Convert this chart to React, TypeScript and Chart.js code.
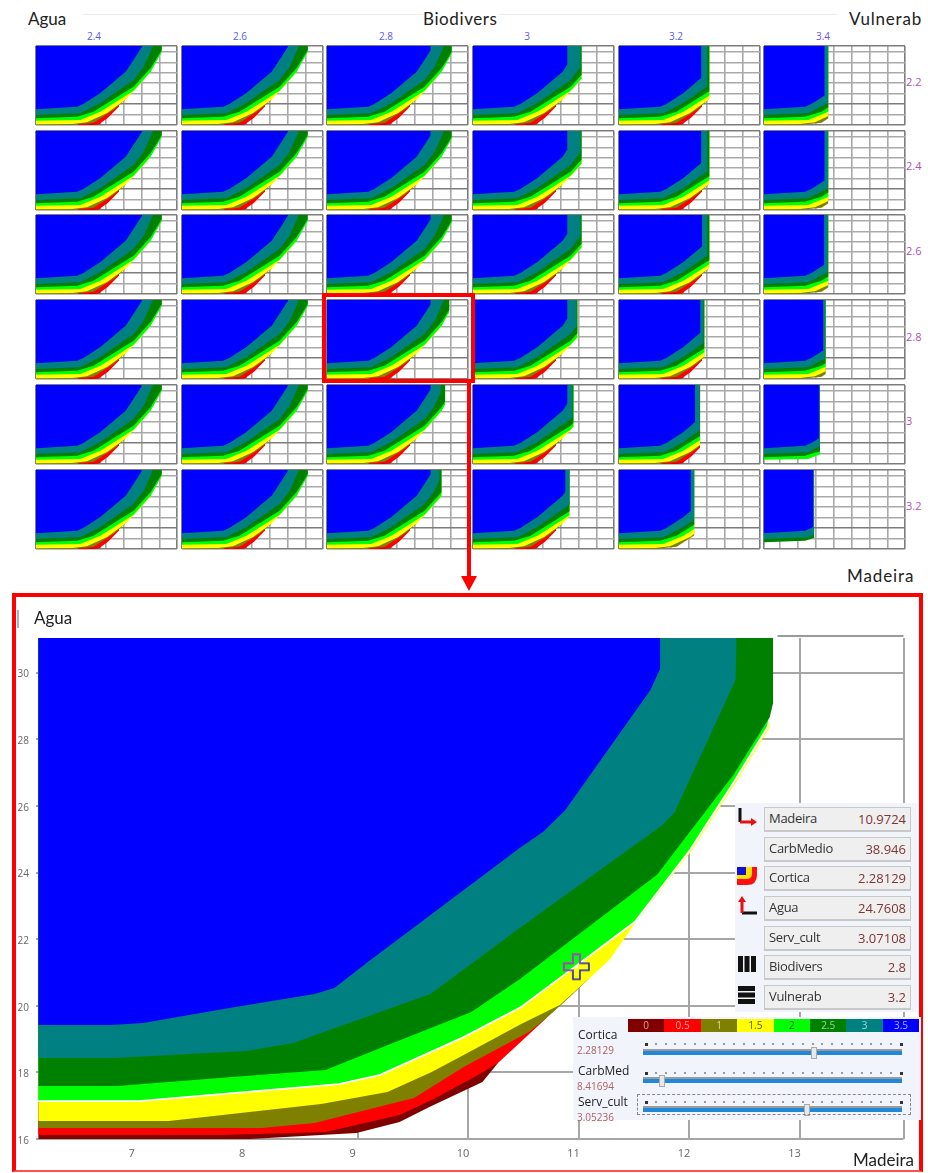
import React, { useEffect, useRef } from "react";
import { Chart, registerables } from "chart.js";

Chart.register(...registerables);

type Pt = [number, number];

// ---------- shared ----------
const levels = ["3.5", "3", "2.5", "2", "1.5", "1", "0.5", "0"];
const levelColors = ["#0000ff", "#008080", "#008000", "#00ff00", "#ffff00", "#808000", "#ff0000", "#800000"];
const legendLevels = ["0", "0.5", "1", "1.5", "2", "2.5", "3", "3.5"];
const legendColors = ["#800000", "#ff0000", "#808000", "#ffff00", "#00ff00", "#008000", "#008080", "#0000ff"];
const legendText = ["#d8a0a0", "#ffb0b0", "#d8d8a0", "#555500", "#006000", "#a0d0a0", "#a0d8d8", "#b0b0ff"];

// ---------- small multiples ----------
const biodivers = ["2.4", "2.6", "2.8", "3", "3.2", "3.4"];
const vulnerab = ["2.2", "2.4", "2.6", "2.8", "3", "3.2"];

const small35: Pt[] = [[6.1, 19.01], [8.38, 19.51], [8.73, 20.03], [9.68, 22.14], [11.08, 26.22], [11.63, 29.1], [12.01, 31.15]];
const small30: Pt[] = [[6.1, 17.92], [8.56, 18.24], [9.68, 20.22], [11.52, 24.63], [12.08, 27.18], [12.6, 31.15]];
const small25: Pt[] = [[6.1, 17.28], [8.38, 17.59], [9.29, 18.55], [11.52, 23.34], [12.47, 26.93], [13.09, 30.38], [13.09, 31.15]];
const small20: Pt[] = [[6.1, 16.82], [8.56, 16.96], [9.68, 18.55], [11.52, 22.58], [12.47, 26.22], [13.09, 30.06]];
const small15: Pt[] = [[6.1, 16.14], [8.11, 16.18], [8.93, 16.55], [10.05, 18.3], [11.08, 20.9], [11.69, 23.1], [12.47, 26.22]];
const small10: Pt[] = [[6.1, 16.0], [8.17, 16.03], [9.3, 16.44], [10.45, 19.0], [11.08, 20.9]];
const small05: Pt[] = [[8.4, 16.0], [8.9, 16.0], [9.6, 16.12], [10.1, 17.4], [10.62, 19.2], [10.72, 19.6]];
const small00: Pt[] = [[8.8, 16.0], [9.2, 16.0], [9.62, 16.12], [9.72, 16.4]];
const smallCurves = [small35, small30, small25, small20, small15, small10, small05, small00];

// Madeira value where each band is cut off, by row (Vulnerab) and column (Biodivers)
const blueCaps = [
  [12.01, 12.01, 11.86, 11.35, 10.68, 9.47],
  [12.01, 12.01, 11.86, 11.35, 10.68, 9.47],
  [12.01, 12.01, 11.86, 11.35, 10.72, 9.45],
  [12.01, 12.01, 11.86, 11.35, 10.63, 9.4],
  [11.97, 11.97, 11.86, 11.35, 10.33, 9.17],
  [11.97, 11.97, 11.86, 11.24, 10.09, 8.84],
];
const tealCaps = [
  [12.6, 12.58, 12.58, 12.08, 11.02, 9.66],
  [12.6, 12.58, 12.58, 12.08, 11.02, 9.66],
  [12.6, 12.58, 12.58, 12.08, 11.02, 9.66],
  [12.6, 12.58, 12.64, 11.86, 10.8, 9.51],
  [12.64, 12.58, 12.42, 11.63, 10.59, 9.21],
  [12.57, 12.58, 12.36, 11.47, 10.28, 8.88],
];
const greenCaps = [
  [13.09, 13.09, 13.03, 12.14, 11.13, 9.68],
  [13.09, 13.09, 13.03, 12.14, 11.13, 9.68],
  [13.09, 13.09, 13.03, 12.14, 11.13, 9.68],
  [13.09, 13.09, 12.9, 11.91, 10.85, 9.53],
  [13.09, 13.09, 12.67, 11.69, 10.61, 9.21],
  [13.09, 13.09, 12.47, 11.47, 10.29, 8.9],
];
// number of bands present in each panel, counted from the blue band
const bandCounts = [
  [8, 8, 8, 8, 8, 6],
  [8, 8, 8, 8, 8, 6],
  [8, 8, 8, 8, 8, 6],
  [8, 8, 8, 8, 8, 6],
  [8, 8, 8, 8, 8, 4],
  [8, 8, 8, 8, 6, 3],
];

const panelLefts = [36, 182, 327, 473, 618.5, 764];
const panelTops = [46, 130.5, 215, 300, 385, 470];
const colLabelX = [94, 240, 386, 527, 676, 823];
const rowLabelY = [82, 166, 251, 337, 421, 506];

const smallXTicks = [6.1, 7, 8, 9, 10, 11, 12, 13, 13.93];
const smallYTicks = [16, 18, 20, 22, 24, 26, 28, 30, 31.15];

// ---------- large chart ----------
const big35: Pt[] = [[6.11, 19.42], [6.77, 19.42], [7.06, 19.48], [7.84, 19.93], [8.61, 20.35], [8.79, 20.53], [9.12, 21.38], [10.47, 24.74], [10.68, 25.22], [10.88, 25.88], [11.65, 29.48], [11.74, 30.14], [11.74, 31.04]];
const big30: Pt[] = [[6.11, 18.43], [6.8, 18.43], [7.99, 18.64], [8.42, 18.88], [8.67, 19.18], [9.66, 20.35], [10.08, 21.38], [10.47, 22.34], [11.76, 25.43], [11.87, 25.82], [12.42, 29.78], [12.43, 31.04]];
const big25: Pt[] = [[6.11, 17.59], [6.83, 17.59], [7.86, 17.86], [8.71, 18.07], [9.32, 18.88], [10.03, 19.81], [10.47, 20.8], [11.71, 23.93], [12.4, 26.93], [12.73, 28.67], [12.76, 29.09], [12.76, 31.04]];
const big20: Pt[] = [[6.11, 17.14], [7.02, 17.14], [8.83, 17.65], [9.2, 17.92], [9.96, 19.06], [10.48, 19.96], [10.83, 20.83], [11.51, 22.52], [12.01, 24.68], [12.4, 26.69], [12.71, 28.37], [12.76, 29.09]];
const big15: Pt[] = [[6.11, 16.54], [7.29, 16.54], [8.67, 17.05], [9.27, 17.41], [9.67, 18.01], [9.96, 18.52], [10.48, 19.45], [10.83, 20.02], [11.1, 20.83], [11.28, 21.38], [11.52, 22.52], [12.03, 24.68], [12.42, 26.69], [12.73, 28.37]];
const big10: Pt[] = [[6.11, 16.33], [8.13, 16.33], [8.61, 16.48], [9.51, 17.23], [9.96, 18.16], [10.55, 19.21], [10.71, 19.63], [10.92, 20.26], [11.1, 20.83]];
const big05: Pt[] = [[6.11, 16.12], [7.76, 16.12], [8.71, 16.21], [9.38, 16.72], [9.67, 17.17], [10.09, 17.92], [10.27, 18.28], [10.71, 19.63]];
const big00: Pt[] = [[6.11, 16.0], [8.03, 16.0], [8.99, 16.18], [9.38, 16.51], [9.65, 16.96], [10.13, 17.71], [10.27, 18.28]];
const bigCurves = [big35, big30, big25, big20, big15, big10, big05, big00];

const bigXTicks = [7, 8, 9, 10, 11, 12, 13, 13.94];
const bigYTicks = [16, 18, 20, 22, 24, 26, 28, 30];
const bigFrameTop: Pt[] = [[12.8, 31.1], [13.94, 31.1]];
const cursorPoint: Pt[] = [[10.98, 21.17]];

// ---------- readouts ----------
const readNames = ["Madeira", "CarbMedio", "Cortica", "Agua", "Serv_cult", "Biodivers", "Vulnerab"];
const readValues = ["10.9724", "38.946", "2.28129", "24.7608", "3.07108", "2.8", "3.2"];
const sliderNames = ["Cortica", "CarbMed", "Serv_cult"];
const sliderValues = ["2.28129", "8.41694", "3.05236"];
const sliderFractions = [0.66, 0.075, 0.633];

const toXY = (pts: Pt[]) => pts.map(([x, y]) => ({ x, y }));

function cutAt(pts: Pt[], cap: number): Pt[] {
  const out: Pt[] = [];
  for (let i = 0; i < pts.length; i++) {
    const p = pts[i];
    if (p[0] <= cap) {
      out.push(p);
    } else {
      const a = pts[i - 1];
      const t = (cap - a[0]) / (p[0] - a[0]);
      out.push([cap, a[1] + (p[1] - a[1]) * t]);
      break;
    }
  }
  return out;
}

function SmallPanel({ row, col }: { row: number; col: number }) {
  const ref = useRef<HTMLCanvasElement>(null);
  useEffect(() => {
    const datasets = smallCurves.slice(0, bandCounts[row][col]).map((c, i) => {
      const cap = i === 0 ? blueCaps[row][col] : i === 1 ? tealCaps[row][col] : greenCaps[row][col];
      return {
        label: levels[i],
        data: toXY(cutAt(c, cap)),
        backgroundColor: levelColors[i],
        borderWidth: 0,
        pointRadius: 0,
        fill: { value: 31.15 },
        tension: 0,
      };
    });
    const chart = new Chart(ref.current!, {
      type: "line",
      data: { datasets } as any,
      options: {
        animation: false,
        responsive: false,
        events: [],
        layout: { padding: 2 },
        plugins: { legend: { display: false }, tooltip: { enabled: false } },
        scales: {
          x: {
            type: "linear",
            min: 6.1,
            max: 13.93,
            afterBuildTicks: (s: any) => { s.ticks = smallXTicks.map((value) => ({ value })); },
            afterFit: (s: any) => { s.height = 0; },
            ticks: { display: false },
            border: { display: false },
            grid: {
              drawTicks: false,
              lineWidth: 1.6,
              color: (c: any) => (c.tick.value === 6.1 || c.tick.value === 13.93 ? "#7d7d7d" : "#a9a9a9"),
            },
          },
          y: {
            type: "linear",
            min: 16,
            max: 31.15,
            afterBuildTicks: (s: any) => { s.ticks = smallYTicks.map((value) => ({ value })); },
            afterFit: (s: any) => { s.width = 0; },
            ticks: { display: false },
            border: { display: false },
            grid: {
              drawTicks: false,
              lineWidth: 1.6,
              color: (c: any) => (c.tick.value === 16 || c.tick.value === 31.15 || c.tick.value === 20 ? "#7d7d7d" : "#a9a9a9"),
            },
          },
        },
      } as any,
    });
    return () => chart.destroy();
  }, [row, col]);
  return (
    <canvas
      ref={ref}
      width={145}
      height={83}
      style={{ position: "absolute", left: panelLefts[col] - 2, top: panelTops[row] - 2, width: 145, height: 83 }}
    />
  );
}

function cursorImage() {
  const c = document.createElement("canvas");
  c.width = 29;
  c.height = 29;
  const g = c.getContext("2d")!;
  const a = 11, b = 18, lo = 2, hi = 27;
  const path = () => {
    g.beginPath();
    g.moveTo(a, lo); g.lineTo(b, lo); g.lineTo(b, a); g.lineTo(hi, a); g.lineTo(hi, b);
    g.lineTo(b, b); g.lineTo(b, hi); g.lineTo(a, hi); g.lineTo(a, b); g.lineTo(lo, b);
    g.lineTo(lo, a); g.lineTo(a, a); g.closePath();
  };
  path();
  g.lineWidth = 1.6;
  g.strokeStyle = "#2020c8";
  g.stroke();
  g.save();
  g.beginPath();
  g.moveTo(0, 0); g.lineTo(29, 0); g.lineTo(0, 29); g.closePath();
  g.clip();
  path();
  g.strokeStyle = "#d040d0";
  g.stroke();
  g.restore();
  g.fillStyle = "#ffffff";
  g.fillRect(13, 13, 3, 3);
  return c;
}

function BigChart() {
  const ref = useRef<HTMLCanvasElement>(null);
  useEffect(() => {
    const bands = bigCurves.map((c, i) => ({
      label: levels[i],
      data: toXY(c),
      backgroundColor: levelColors[i],
      borderColor: levels[i] === "2" ? "#ffffff" : levelColors[i],
      borderWidth: levels[i] === "2" ? 1.8 : 0,
      pointRadius: 0,
      fill: { value: 31.04 },
      tension: 0,
    }));
    const chart = new Chart(ref.current!, {
      type: "line",
      data: {
        datasets: [
          {
            label: "cursor",
            data: toXY(cursorPoint),
            showLine: false,
            pointStyle: cursorImage(),
            pointRadius: 14,
            fill: false,
          },
          {
            label: "frame",
            data: toXY(bigFrameTop),
            borderColor: "#9a9a9a",
            borderWidth: 2,
            pointRadius: 0,
            fill: false,
            clip: false,
          },
          ...bands,
        ],
      } as any,
      options: {
        animation: false,
        responsive: false,
        events: [],
        layout: { padding: { top: 18, right: 24.5, left: 0, bottom: 0 } },
        plugins: { legend: { display: false }, tooltip: { enabled: false } },
        scales: {
          x: {
            type: "linear",
            min: 6.09,
            max: 13.94,
            afterBuildTicks: (s: any) => { s.ticks = bigXTicks.map((value) => ({ value })); },
            afterFit: (s: any) => { s.height = 34; },
            border: { display: false },
            grid: { drawTicks: false, color: "#a6a6a6", lineWidth: 2 },
            ticks: {
              autoSkip: false,
              maxRotation: 0,
              padding: 8,
              labelOffset: -5,
              color: "#666666",
              font: { family: "'Open Sans'", size: 11 },
              callback: (v: any) => (Number.isInteger(v) ? String(v) : ""),
            },
          },
          y: {
            type: "linear",
            min: 16,
            max: 31.04,
            afterBuildTicks: (s: any) => { s.ticks = bigYTicks.map((value) => ({ value })); },
            afterFit: (s: any) => { s.width = 36; },
            border: { display: false },
            grid: { drawTicks: false, color: "#a6a6a6", lineWidth: 2 },
            ticks: {
              autoSkip: false,
              padding: 7,
              labelOffset: 2,
              color: "#666666",
              font: { family: "'Open Sans'", size: 10 },
              callback: (v: any) => String(v),
            },
          },
        },
      } as any,
    });
    return () => chart.destroy();
  }, []);
  return (
    <canvas
      ref={ref}
      width={928}
      height={553}
      style={{ position: "absolute", left: 0, top: 620, width: 928, height: 553 }}
    />
  );
}

const abs = (s: React.CSSProperties): React.CSSProperties => ({ position: "absolute", ...s });
const titleFont = "Lato, 'Open Sans', sans-serif";
const uiFont = "'Open Sans', 'DejaVu Sans', sans-serif";

function Title({ text, x, y, spacing = 0 }: { text: string; x: number; y: number; spacing?: number }) {
  return (
    <div style={abs({ left: x, top: y, font: `17px ${titleFont}`, letterSpacing: spacing, color: "#222", lineHeight: "20px", background: "#fff", whiteSpace: "nowrap" })}>
      {text}
    </div>
  );
}

const readTops = [807, 836.5, 866, 896, 925.5, 955, 985];
const sliderLabelTops = [1027, 1063, 1094];
const sliderTicksY = [1043, 1072, 1101];
const sliderTrackY = [1052, 1080, 1109];
const sliderTickIndex = Array.from({ length: 27 }, (_, i) => i);

function ReadoutIcon({ index }: { index: number }) {
  const style = abs({ left: 736, top: readTops[index] - 1 });
  if (index === 0)
    return (
      <svg width="22" height="22" style={style}>
        <path d="M4 2V16" stroke="#111" strokeWidth="3" fill="none" />
        <path d="M4 16H17" stroke="#e81010" strokeWidth="3" fill="none" />
        <path d="M15 12L21 16L15 20Z" fill="#e81010" />
      </svg>
    );
  if (index === 2)
    return (
      <svg width="22" height="22" style={style}>
        <path d="M1 2H21V10Q21 20 11 20H1Z" fill="#ff1010" />
        <path d="M1 2H16V9Q16 14 10 14H1Z" fill="#ffe000" />
        <rect x="1" y="2" width="9" height="8" fill="#1010d8" />
      </svg>
    );
  if (index === 3)
    return (
      <svg width="22" height="22" style={style}>
        <path d="M6 18H21" stroke="#111" strokeWidth="3" fill="none" />
        <path d="M6 6V18" stroke="#e81010" strokeWidth="3" fill="none" />
        <path d="M2 7L6 1L10 7Z" fill="#e81010" />
      </svg>
    );
  if (index === 5)
    return (
      <svg width="22" height="22" style={style}>
        <rect x="2" y="2" width="5" height="16" fill="#111" />
        <rect x="8.5" y="2" width="5" height="16" fill="#111" />
        <rect x="15" y="2" width="5" height="16" fill="#111" />
      </svg>
    );
  if (index === 6)
    return (
      <svg width="22" height="22" style={style}>
        <rect x="2" y="2" width="17" height="5" fill="#111" />
        <rect x="2" y="8.5" width="17" height="5" fill="#111" />
        <rect x="2" y="15" width="17" height="5" fill="#111" />
      </svg>
    );
  return null;
}

export default function App() {
  return (
    <div style={abs({ left: 0, top: 0, width: 928, height: 1173, background: "#fff", overflow: "hidden" })}>
      <div style={abs({ left: 82, top: 14, width: 756, height: 1, background: "#ececec" })} />
      <Title text="Agua" x={28} y={9} />
      <Title text="Biodivers" x={423} y={9} spacing={0.6} />
      <Title text="Vulnerab" x={849} y={9} spacing={0.8} />
      <Title text="Madeira" x={847} y={566} spacing={0.9} />

      {biodivers.map((b, i) => (
        <div key={b} style={abs({ left: colLabelX[i] - 20, width: 40, top: 29, textAlign: "center", font: `10px ${uiFont}`, color: "#5a5af0", lineHeight: "14px" })}>{b}</div>
      ))}
      {vulnerab.map((v, i) => (
        <div key={v} style={abs({ left: 906, top: rowLabelY[i] - 7, font: `11px ${uiFont}`, color: "#b050b8", lineHeight: "14px" })}>{v}</div>
      ))}

      {vulnerab.map((_, r) => biodivers.map((_, c) => <SmallPanel key={`${r}-${c}`} row={r} col={c} />))}

      <div style={abs({ left: 322, top: 293, width: 153, height: 90, boxSizing: "border-box", border: "4px solid #ff0000" })} />
      <div style={abs({ left: 467, top: 381, width: 4, height: 200, background: "#ff0000" })} />
      <svg width="18" height="16" style={abs({ left: 460, top: 576 })}>
        <path d="M1 0H17L9 15Z" fill="#ff0000" />
      </svg>

      <BigChart />
      <div style={abs({ left: 12, top: 593, width: 911, height: 579, boxSizing: "border-box", border: "4px solid #ff0000", borderBottomWidth: 2, borderBottomColor: "#ff5050" })} />
      <div style={abs({ left: 17, top: 610, width: 2, height: 18, background: "#b0b0b0" })} />
      <Title text="Agua" x={34} y={608} />
      <Title text="Madeira" x={853} y={1150} />

      <div style={abs({ left: 735, top: 803, width: 182, height: 209, background: "#f1f4fb" })} />
      {readNames.map((n, i) => (
        <React.Fragment key={n}>
          <div style={abs({ left: 764, top: readTops[i], width: 147, height: 25, boxSizing: "border-box", background: "#efefef", border: "1px solid #c8c8c8", borderBottomWidth: 2 })} />
          <div style={abs({ left: 769, top: readTops[i] + 2, font: `13px ${uiFont}`, letterSpacing: -0.3, color: "#333", lineHeight: "18px" })}>{n}</div>
          <div style={abs({ left: 840, width: 66, top: readTops[i] + 3, textAlign: "right", font: `13px ${uiFont}`, color: "#7d3535", lineHeight: "18px" })}>{readValues[i]}</div>
          <ReadoutIcon index={i} />
        </React.Fragment>
      ))}

      <div style={abs({ left: 573, top: 1017, width: 348, height: 103, background: "#f1f4fb" })} />
      {legendLevels.map((l, i) => (
        <div key={l} style={abs({ left: 628 + i * 36.4, top: 1019, width: 36.4, height: 13, background: legendColors[i], color: legendText[i], textAlign: "center", font: `10px ${uiFont}`, lineHeight: "13px" })}>{l}</div>
      ))}
      {sliderNames.map((n, i) => {
        const left = 643, width = 259;
        const thumb = left + width * sliderFractions[i];
        return (
          <React.Fragment key={n}>
            <div style={abs({ left: 578, top: sliderLabelTops[i], font: `12px ${uiFont}`, color: "#222", lineHeight: "16px" })}>{n}</div>
            <div style={abs({ left: 577, top: sliderLabelTops[i] + 16, font: `10px ${uiFont}`, color: "#b06060", lineHeight: "14px" })}>{sliderValues[i]}</div>
            {sliderTickIndex.map((t) => (
              <div key={t} style={abs({ left: 645 + t * 9.8, top: sliderTicksY[i], width: t === 0 || t === 26 ? 3 : 2, height: t === 0 || t === 26 ? 3 : 2, background: t === 0 || t === 26 ? "#333" : "#999" })} />
            ))}
            <div style={abs({ left, top: sliderTrackY[i] - 3, width, height: 2, background: "#9a9a9a" })} />
            <div style={abs({ left, top: sliderTrackY[i] - 1, width, height: 4, background: "#1f88d8" })} />
            <div style={abs({ left: thumb - 3, top: sliderTrackY[i] - 5, width: 6, height: 12, background: "#e8e8e8", border: "1px solid #aaa", boxSizing: "border-box" })} />
          </React.Fragment>
        );
      })}
      <div style={abs({ left: 637, top: 1094, width: 274, height: 21, boxSizing: "border-box", border: "1px dashed #888" })} />
    </div>
  );
}
